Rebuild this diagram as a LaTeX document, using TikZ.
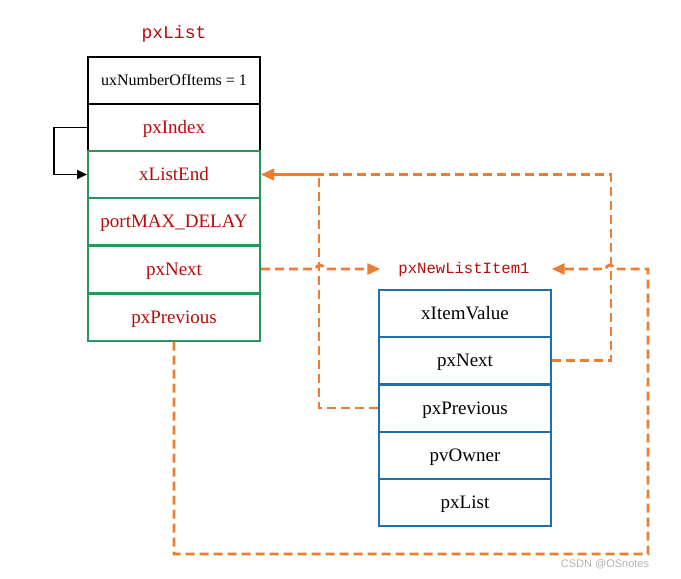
\documentclass[tikz,border=0pt]{standalone}
\usepackage{fontspec}
\setmainfont{Liberation Serif}
\newfontfamily\monof{Liberation Mono}
\newfontfamily\wmfont{Liberation Sans}
\usetikzlibrary{arrows.meta}
\definecolor{txtred}{RGB}{185,10,10}
\definecolor{grn}{RGB}{38,150,90}
\definecolor{blu}{RGB}{30,110,180}
\definecolor{org}{RGB}{237,125,49}
\tikzset{
  cell/.style={draw, line width=2pt, minimum width=172pt, minimum height=47pt, inner sep=0pt, text height=12.5pt, text depth=0pt, font=\fontsize{19}{20}\selectfont},
  bcell/.style={cell, draw=black, text=txtred},
  gcell/.style={cell, draw=grn, text=txtred},
  icell/.style={cell, draw=blu, text=black},
  ttl/.style={inner sep=0pt, text=txtred},
  oarr/.style={draw=org, line width=2.8pt, dash pattern=on 9pt off 5pt, -{Triangle[length=13pt,width=11pt,fill=org]}},
  barr/.style={draw=black, line width=1.8pt, -{Triangle[length=10pt,width=9pt]}}
}
\begin{document}
\begin{tikzpicture}[x=1pt,y=-1pt]
\useasboundingbox (0,0) rectangle (681,579);
% left list
\node[ttl, font=\monof\fontsize{18}{20}\selectfont] (t1) at (174,34) {pxList};
\node[bcell, text=black, text height=10.5pt, font=\fontsize{16}{17}\selectfont] (cnt) at (174,80.5) {uxNumberOfItems = 1};
\node[bcell] (idx) at (174,127.5) {pxIndex};
\node[gcell] (end) at (174,174.5) {xListEnd};
\node[gcell] (dly) at (174,221.5) {portMAX\_DELAY};
\node[gcell] (lnext) at (174,269) {pxNext};
\node[gcell] (lprev) at (174,317) {pxPrevious};
% item
\node[ttl, font=\monof\fontsize{15.6}{17}\selectfont] (t2) at (464,269) {pxNewListItem1};
\node[icell] (ival) at (465,313) {xItemValue};
\node[icell] (inext) at (465,360.5) {pxNext};
\node[icell] (iprev) at (465,408) {pxPrevious};
\node[icell] (iown) at (465,455.5) {pvOwner};
\node[icell] (ilist) at (465,502.5) {pxList};
% connectors
\draw[barr] (idx.west) -- ++(-33,0) |- (end.west);
\coordinate (c1) at (648,554);
\draw[oarr] (iprev.west) -- ++(-59,0) |- (end.east);
\draw[oarr] (inext.east) -- ++(59,0) |- (end.east);
\draw[oarr, shorten >=18pt] (lnext.east) -- ++(55,0) arc[start angle=180, end angle=0, radius=4pt] -- (t2.west);
\draw[oarr, shorten >=22pt] (lprev.south) |- (c1) -- ++(0,-285) -- ++(-34,0) arc[start angle=0, end angle=180, radius=4pt] -- (t2.east);
% watermark
\node[text=gray!60, font=\wmfont\fontsize{11}{12}\selectfont, inner sep=0pt] (wm) at (605,564) {CSDN @OSnotes};
\end{tikzpicture}
\end{document}
